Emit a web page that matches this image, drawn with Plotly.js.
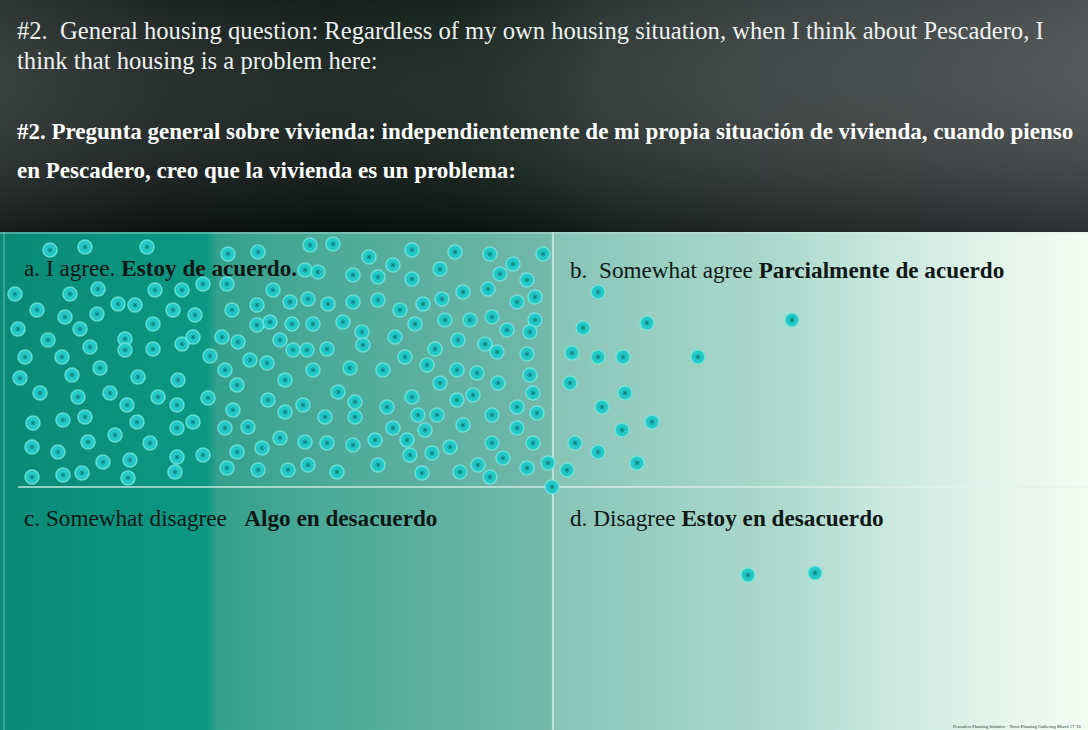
<!DOCTYPE html>
<html>
<head>
<meta charset="utf-8">
<script src="https://cdn.plot.ly/plotly-3.0.1.min.js"></script>
<style>html,body{margin:0;padding:0;background:#fff;overflow:hidden}#chart{width:1088px;height:730px}</style>
</head>
<body>
<div id="chart"></div>
<script>
const agreeX = [50,85,147,15,70,98,155,182,37,65,97,118,135,173,18,80,153,48,90,125,125,153,182,25,62,
  228,258,310,333,369,305,318,353,203,227,273,290,308,328,353,195,232,257,257,270,292,313,343,362,193,222,238,280,210,293,307,327,363,
  412,455,490,543,393,440,513,500,378,412,527,463,488,535,378,423,442,517,400,445,470,492,535,415,395,507,530,458,485,435,497,527,405,
  100,20,72,138,178,40,78,110,158,127,177,33,63,85,137,177,115,32,88,150,58,103,130,177,32,63,82,128,175,
  250,267,313,350,225,237,285,338,208,268,355,233,285,303,325,355,193,225,248,280,305,327,353,203,237,262,227,258,288,308,337,
  427,383,457,477,530,440,498,412,457,473,533,387,418,437,492,517,537,393,425,463,517,375,407,492,533,450,410,432,503,378,478,527,548,422,460,490,552];
const agreeY = [250,247,247,294,294,289,290,290,310,317,314,304,305,310,329,329,324,340,347,339,350,349,344,357,357,
  254,252,245,244,257,270,272,275,284,284,290,302,299,304,302,315,310,305,325,322,324,324,322,332,337,337,342,340,356,350,350,349,345,
  250,252,254,254,265,269,264,274,277,279,280,292,289,297,300,304,299,302,310,320,320,317,320,324,337,330,332,340,344,349,352,354,357,
  368,378,375,377,380,393,397,393,397,405,405,423,420,417,422,428,435,447,442,443,452,462,460,457,477,475,473,478,472,
  360,363,370,368,370,385,380,392,398,400,402,410,412,405,417,417,422,428,427,438,442,443,445,455,452,448,468,470,470,465,472,
  365,370,370,373,375,383,383,397,400,395,393,407,415,415,415,407,413,428,430,425,428,440,440,443,443,447,455,453,458,465,465,468,463,473,472,477,487];
const somewhatAgreeX = [598,647,792,583,572,598,623,698,570,625,602,652,622,575,598,637,567];
const somewhatAgreeY = [292,323,320,328,353,357,357,357,383,393,407,422,430,443,452,463,470];
const somewhatDisagreeX = [];
const somewhatDisagreeY = [];
const disagreeX = [748,815];
const disagreeY = [575,573];

const headerLines = [
  "#2.  General housing question: Regardless of my own housing situation, when I think about Pescadero, I",
  "think that housing is a problem here:"
];
const headerLinesEs = [
  "#2. Pregunta general sobre vivienda: independientemente de mi propia situación de vivienda, cuando pienso",
  "en Pescadero, creo que la vivienda es un problema:"
];
const quadrantLabels = [
  ["a. I agree. ", "Estoy de acuerdo."],
  ["b.  Somewhat agree ", "Parcialmente de acuerdo"],
  ["c. Somewhat disagree   ", "Algo en desacuerdo"],
  ["d. Disagree ", "Estoy en desacuerdo"]
];
const footerText = "Pescadero Planning Initiative · Town Planning Gathering March 17 '18";

// ---- Layout constants ----
const W = 1088, H = 730, HEADER = 232, MIDX = 553, MIDY = 487;
const serif = "Liberation Serif, DejaVu Serif, serif";

const traces = [];
// header background
traces.push({x:[0,W,W,0,0], y:[0,0,HEADER,HEADER,0], type:'scatter', mode:'lines', line:{width:0},
  fill:'toself', hoverinfo:'skip', showlegend:false,
  fillgradient:{type:'horizontal', colorscale:[[0,'#252d2b'],[0.15,'#141c1a'],[0.3,'#0b1712'],[0.42,'#0d1c15'],[0.5,'#17251f'],[0.56,'#242f2c'],[0.7,'#323a39'],[0.85,'#3b4141'],[1,'#454a4a']]}});
traces.push({x:[0,W,W,0,0], y:[0,0,HEADER,HEADER,0], type:'scatter', mode:'lines', line:{width:0},
  fill:'toself', hoverinfo:'skip', showlegend:false,
  fillgradient:{type:'vertical', colorscale:[[0,'rgba(0,0,0,0.35)'],[1,'rgba(255,255,255,0.04)']]}});
// body background
traces.push({x:[0,W,W,0,0], y:[HEADER,HEADER,H,H,HEADER], type:'scatter', mode:'lines', line:{width:0},
  fill:'toself', hoverinfo:'skip', showlegend:false,
  fillgradient:{type:'horizontal', colorscale:[[0,'#0a8a77'],[0.19,'#0c9883'],[0.2,'#33a18d'],[0.3,'#4caa98'],[0.42,'#62b2a3'],[0.505,'#74b9ab'],[0.51,'#86c4b6'],[0.6,'#98cfc2'],[0.7,'#a9d7ca'],[0.8,'#c5e6dc'],[0.9,'#e0f2ea'],[1,'#f4fcf2']]}});
// quadrant dividers
const divider = {type:'scatter', mode:'lines', hoverinfo:'skip', showlegend:false, line:{color:'rgba(225,242,236,0.85)', width:1.5}};
traces.push(Object.assign({x:[MIDX,MIDX], y:[HEADER,H]}, divider));
traces.push(Object.assign({x:[18,W], y:[MIDY,MIDY]}, divider));
traces.push(Object.assign({x:[4,4], y:[HEADER,H]}, divider, {line:{color:'rgba(200,235,228,0.5)', width:1}}));
traces.push({x:[0,W], y:[HEADER+1,HEADER+1], type:'scatter', mode:'lines', hoverinfo:'skip', showlegend:false, line:{color:'rgba(220,240,235,0.6)', width:1}});

// dots
const groups = [[agreeX,agreeY],[somewhatAgreeX,somewhatAgreeY],[somewhatDisagreeX,somewhatDisagreeY],[disagreeX,disagreeY]];
groups.forEach(([gx,gy]) => {
  traces.push({x:gx, y:gy, type:'scatter', mode:'markers', hoverinfo:'skip', showlegend:false,
    marker:{size:14, color:'#22c9c6', line:{color:'rgba(120,232,226,0.75)', width:1.6}}});
  traces.push({x:gx, y:gy, type:'scatter', mode:'markers', hoverinfo:'skip', showlegend:false,
    marker:{size:5, symbol:'asterisk-open', color:'rgba(10,95,100,0.5)', line:{color:'rgba(10,95,100,0.5)', width:1}}});
});

const annotations = [];
headerLines.forEach((t,i) => annotations.push({x:15, y:[30,60][i], xref:'x', yref:'y', xanchor:'left', yanchor:'middle',
  showarrow:false, text:t, font:{family:serif, size:24.6, color:'#eef2f1'}}));
headerLinesEs.forEach((t,i) => annotations.push({x:15, y:[131,170][i], xref:'x', yref:'y', xanchor:'left', yanchor:'middle',
  showarrow:false, text:'<b>'+t+'</b>', font:{family:serif, size:23, color:'#ffffff'}}));
const labelPos = [[22,268],[568,270],[22,518],[568,518]];
quadrantLabels.forEach((l,i) => annotations.push({x:labelPos[i][0], y:labelPos[i][1], xref:'x', yref:'y', xanchor:'left', yanchor:'middle',
  showarrow:false, text:l[0]+'<b>'+l[1]+'</b>', font:{family:serif, size:23.2, color:'#101816'}}));
annotations.push({x:1084, y:726, xref:'x', yref:'y', xanchor:'right', yanchor:'middle', showarrow:false,
  text:footerText, font:{family:serif, size:4.5, color:'#2a3a36'}});

const layout = {
  width:W, height:H, margin:{l:0,r:0,t:0,b:0,pad:0},
  paper_bgcolor:'#ffffff', plot_bgcolor:'#ffffff',
  xaxis:{range:[0,W], visible:false, fixedrange:true},
  yaxis:{range:[H,0], visible:false, fixedrange:true},
  annotations:annotations, showlegend:false
};
Plotly.newPlot('chart', traces, layout, {staticPlot:true, displayModeBar:false});
</script>
</body>
</html>
